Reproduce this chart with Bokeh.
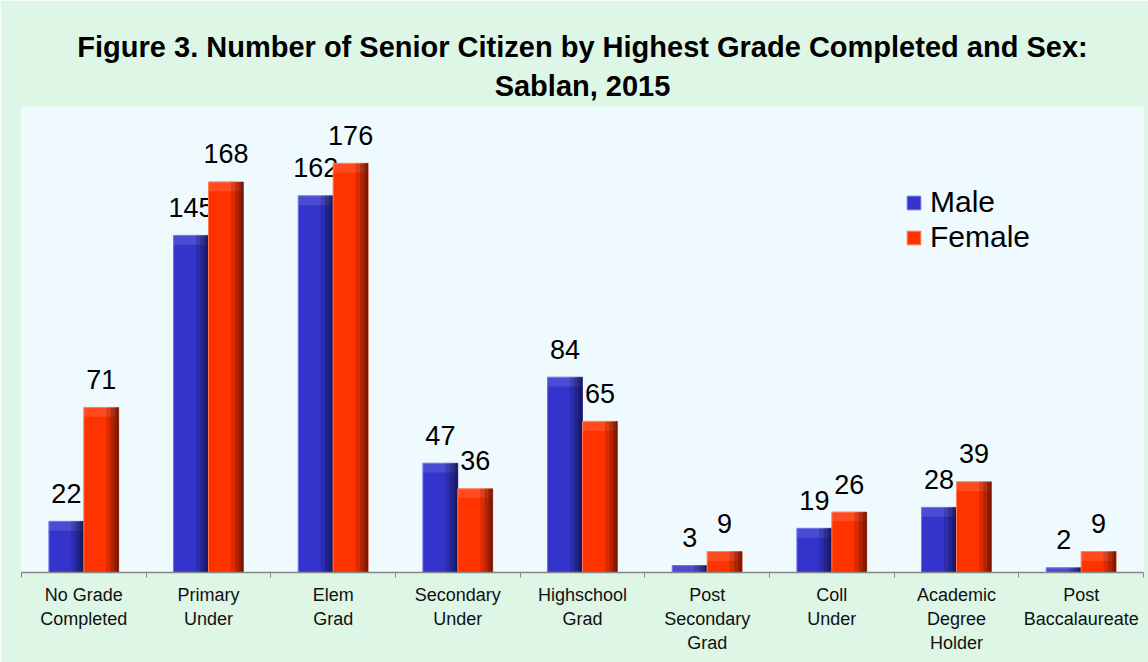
from bokeh.plotting import figure
from bokeh.models import (ColumnDataSource, Range1d, FixedTicker, LinearAxis,
                          Legend, LegendItem, Title)
from bokeh.transform import dodge
from bokeh.core.properties import value
from bokeh.embed import file_html
from bokeh.resources import INLINE

title_lines = ["Figure 3. Number of Senior Citizen by Highest Grade Completed and Sex:",
               "Sablan, 2015"]
categories = ["No Grade\nCompleted", "Primary\nUnder", "Elem\nGrad",
              "Secondary\nUnder", "Highschool\nGrad", "Post\nSecondary\nGrad",
              "Coll\nUnder", "Academic\nDegree\nHolder", "Post\nBaccalaureate"]
male = [22, 145, 162, 47, 84, 3, 19, 28, 2]
female = [71, 168, 176, 36, 65, 9, 26, 39, 9]

FONT = "Liberation Sans"
BG = "#DDF6E6"
PLOT_BG = "#EEFAFD"

xs = [i + 0.5 for i in range(len(categories))]
src = ColumnDataSource(dict(
    x=xs, male=male, female=female,
    male_lbl=[str(v) for v in male], female_lbl=[str(v) for v in female],
    male_hl=[max(v - 4, 0) for v in male], female_hl=[max(v - 4, 0) for v in female],
))

p = figure(width=1148, height=662, output_backend="svg", toolbar_location=None,
           x_range=Range1d(0, len(categories)), y_range=Range1d(0, 200),
           min_border_left=21, min_border_right=5, min_border_top=107,
           min_border_bottom=90, x_axis_type=None, y_axis_type=None)
p.background_fill_color = PLOT_BG
p.border_fill_color = BG
p.outline_line_color = None
p.grid.visible = False

def style_title(t, standoff):
    t.align = "center"
    t.text_font = FONT
    t.text_font_size = "29px"
    t.text_font_style = "bold"
    t.text_color = "black"
    t.standoff = standoff

p.title.text = title_lines[0]
style_title(p.title, 0)
t2 = Title(text=title_lines[1])
style_title(t2, 11)
p.add_layout(t2, "above")

W = 0.28
OFF_M = -0.14
OFF_F = 0.14

series = [
    ("male", OFF_M, "#3434CC", "#12124A", "#6A6AE8"),
    ("female", OFF_F, "#FF3300", "#5A1200", "#FF7A50"),
]
renderers = {}
for name, off, col, dark, light in series:
    r = p.vbar(x=dodge("x", off, range=p.x_range), top=name, bottom=0, width=W,
               source=src, fill_color=col, line_color=light, line_width=1)
    renderers[name] = r
    # lighter top bevel
    p.vbar(x=dodge("x", off, range=p.x_range), top=name, bottom=name + "_hl",
           width=W, source=src, fill_color="white", fill_alpha=0.12,
           line_color=None)
    # darker right-hand bevel
    for w, a in [(0.10, 0.22), (0.065, 0.3), (0.035, 0.4), (0.015, 0.5)]:
        p.vbar(x=dodge("x", off + W / 2 - w / 2, range=p.x_range), top=name,
               bottom=0, width=w, source=src, fill_color=dark, fill_alpha=a,
               line_color=None)
    p.text(x=dodge("x", off, range=p.x_range), y=name, text=name + "_lbl",
           source=src, text_align="center", text_baseline="alphabetic",
           y_offset=-28, text_font=value(FONT), text_font_size="27px",
           text_color="black")

xaxis = LinearAxis(
    ticker=FixedTicker(ticks=xs, minor_ticks=list(range(len(categories) + 1))),
    major_label_overrides={x: c for x, c in zip(xs, categories)},
    major_tick_in=0, major_tick_out=0, minor_tick_in=0, minor_tick_out=5,
    minor_tick_line_color="#868686", axis_line_color="#868686",
    axis_line_width=1.5,
    major_label_text_font=FONT, major_label_text_font_size="18px",
    major_label_text_color="#111111", major_label_standoff=7,
)
p.add_layout(xaxis, "below")

legend = Legend(items=[LegendItem(label="Male", renderers=[renderers["male"]]),
                       LegendItem(label="Female", renderers=[renderers["female"]])],
                location=(884, 318), orientation="vertical",
                glyph_width=17, glyph_height=17, label_standoff=8,
                label_text_font=FONT, label_text_font_size="30px",
                label_text_color="black",
                label_height=33, spacing=1, padding=0, margin=0,
                border_line_color=None, background_fill_alpha=0)
p.add_layout(legend, "center")

open("out.html", "w").write(file_html(p, INLINE))
